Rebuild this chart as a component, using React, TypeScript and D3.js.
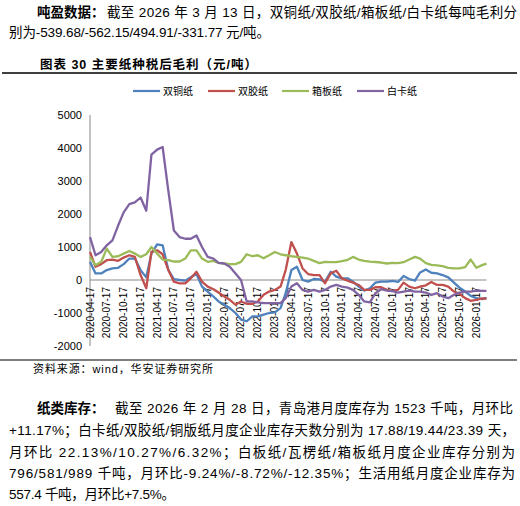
import React from "react";
import * as d3 from "d3";

// monthly samples (17th of each month), last point is 2026-03-13
const startDate = new Date(2020, 3, 17);
const lastDate = new Date(2026, 2, 13);
const dates: Date[] = d3
  .range(72)
  .map((i) => (i === 71 ? lastDate : d3.timeMonth.offset(startDate, i)));

const tickLabels = [
  "2020-04-17", "2020-07-17", "2020-10-17", "2021-01-17", "2021-04-17", "2021-07-17",
  "2021-10-17", "2022-01-17", "2022-04-17", "2022-07-17", "2022-10-17", "2023-01-17",
  "2023-04-17", "2023-07-17", "2023-10-17", "2024-01-17", "2024-04-17", "2024-07-17",
  "2024-10-17", "2025-01-17", "2025-04-17", "2025-07-17", "2025-10-17", "2026-01-17",
];

const yTicks = [5000, 4000, 3000, 2000, 1000, 0, -1000, -2000];

// 双铜纸
const coated = [
  550, 200, 200, 300, 350, 370, 480, 650, 650, 300, 80, 800,
  1080, 1050, 300, 30, 0, -20, 80, 180, -200, -350, -500, -650,
  -750, -850, -1000, -1200, -1250, -1100, -1100, -1050, -1000, -980, -850, -400,
  300, 400, 0, -50, 30, 20, -50, 250, 100, 50, 50, -50,
  -200, -320, -250, -80, -50, -50, -30, -60, 120, 30, -20, 230,
  320, 220, 200, 150, 80, -80, -230, -350, -480, -550, -580, -539.68,
];
// 双胶纸
const offset = [
  850, 400, 480, 600, 620, 580, 680, 750, 700, 150, -250, 850,
  900, 780, 300, -50, -100, -100, 50, 250, -50, -200, -280, -380,
  -500, -600, -750, -650, -720, -720, -650, -450, -350, -300, -200, 300,
  1150, 800, 350, 180, 150, 150, -100, 200, 280, 50, -20, -80,
  -150, -300, -300, -220, -220, -300, -330, -300, -80, -200, -250, -200,
  -160, -60, -150, -150, -200, -350, -420, -550, -630, -600, -560, -562.15,
];
// 箱板纸
const boxboard = [
  700, 450, 550, 950, 700, 720, 800, 880, 800, 700, 780, 1000,
  800, 620, 600, 560, 560, 650, 900, 900, 650, 550, 580, 520,
  500, 480, 480, 550, 780, 720, 750, 660, 750, 850, 780, 750,
  720, 700, 680, 650, 580, 510, 550, 540, 540, 570, 610, 700,
  620, 580, 555, 545, 530, 500, 520, 510, 540, 620, 700, 650,
  510, 460, 440, 420, 370, 350, 350, 390, 620, 370, 450, 494.91,
];
// 白卡纸
const ivory = [
  1300, 750, 850, 1050, 1200, 1650, 2050, 2300, 2350, 2500, 2100, 3800,
  3950, 4030, 2700, 1500, 1300, 1250, 1250, 1350, 1000, 700, 650, 520,
  500, 400, 200, 0, -650, -650, -680, -700, -700, -700, -700, -550,
  -200, -100, -300, -350, -300, -350, -300, -200, -150, -200, -230, -300,
  -450, -650, -680, -400, -280, -320, -340, -380, -350, -320, -350, -350,
  -380, -450, -400, -500, -550, -450, -380, -350, -350, -320, -330, -331.77,
];

const series = [
  { name: "双铜纸", color: "#4F81BD", values: coated },
  { name: "双胶纸", color: "#C0504D", values: offset },
  { name: "箱板纸", color: "#9BBB59", values: boxboard },
  { name: "白卡纸", color: "#8064A2", values: ivory },
];

const latin = "'Liberation Sans', Arial, 'Noto Sans CJK SC', sans-serif";

const App = () => {
  const x = d3
    .scaleTime()
    .domain([startDate, new Date(2026, 0, 17)])
    .range([90, 476.4]);
  const y = d3.scaleLinear().domain([-2000, 5000]).range([346, 115]);

  const line = d3
    .line<number>()
    .x((_, i) => x(dates[i]))
    .y((d) => y(d));

  const legendX = [133, 208, 282, 357];

  return (
    <svg
      width={520}
      height={506}
      style={{ position: "absolute", left: 0, top: 0, background: "#fff" }}
      fontFamily={latin}
    >
      {/* paragraph 1 */}
      <text x={37} y={17} fontSize={13.5} fontWeight="bold" fill="#000">
        吨盈数据：
      </text>
      <text x={107} y={17} fontSize={13.5} textLength={410} lengthAdjust="spacing">
        截至 2026 年 3 月 13 日，双铜纸/双胶纸/箱板纸/白卡纸每吨毛利分
      </text>
      <text x={9} y={37} fontSize={13.5} textLength={261} lengthAdjust="spacing">
        别为-539.68/-562.15/494.91/-331.77 元/吨。
      </text>

      {/* chart title */}
      <text x={40} y={69} fontSize={12.5} fontWeight="bold" textLength={217} lengthAdjust="spacing">
        图表 30 主要纸种税后毛利（元/吨）
      </text>
      <line x1={2} x2={517} y1={73} y2={73} stroke="#000" strokeWidth={1.5} />

      {/* legend */}
      {series.map((s, i) => (
        <g key={s.name}>
          <line
            x1={legendX[i]}
            x2={legendX[i] + 27}
            y1={91}
            y2={91}
            stroke={s.color}
            strokeWidth={2.2}
          />
          <text x={legendX[i] + 30} y={95} fontSize={10} fill="#000">
            {s.name}
          </text>
        </g>
      ))}

      {/* y axis */}
      <line x1={90} x2={90} y1={y(5000)} y2={y(-2000)} stroke="#868686" />
      {yTicks.map((t) => (
        <text key={t} x={82} y={y(t)} dy="0.35em" fontSize={11} textAnchor="end">
          {t}
        </text>
      ))}

      {/* x axis labels */}
      {tickLabels.map((t) => {
        const px = x(d3.timeParse("%Y-%m-%d")(t) as Date);
        return (
          <text
            key={t}
            transform={`translate(${px},287) rotate(-90)`}
            dy="0.35em"
            fontSize={10}
            textAnchor="end"
          >
            {t}
          </text>
        );
      })}
      <line x1={90} x2={x(lastDate)} y1={y(0)} y2={y(0)} stroke="#868686" />

      {/* series */}
      {series.map((s) => (
        <path
          key={s.name}
          d={line(s.values) ?? ""}
          fill="none"
          stroke={s.color}
          strokeWidth={2.3}
          strokeLinejoin="round"
        />
      ))}

      {/* source */}
      <line x1={0} x2={517} y1={360} y2={360} stroke="#000" strokeWidth={1.2} />
      <text x={33} y={373} fontSize={11} textLength={180} lengthAdjust="spacing">
        资料来源：wind，华安证券研究所
      </text>

      {/* paragraph 2 */}
      <text x={37} y={413} fontSize={13.5} fontWeight="bold">
        纸类库存：
      </text>
      <text x={115} y={413} fontSize={13.5} textLength={398} lengthAdjust="spacing">
        截至 2026 年 2 月 28 日，青岛港月度库存为 1523 千吨，月环比
      </text>
      <text x={9} y={435} fontSize={13.5} textLength={506} lengthAdjust="spacing">
        +11.17%；白卡纸/双胶纸/铜版纸月度企业库存天数分别为 17.88/19.44/23.39 天，
      </text>
      <text x={9} y={456.5} fontSize={13.5} textLength={506} lengthAdjust="spacing">
        月环比 22.13%/10.27%/6.32%；白板纸/瓦楞纸/箱板纸月度企业库存分别为
      </text>
      <text x={9} y={478} fontSize={13.5} textLength={506} lengthAdjust="spacing">
        796/581/989 千吨，月环比-9.24%/-8.72%/-12.35%；生活用纸月度企业库存为
      </text>
      <text x={9} y={499} fontSize={13.5} textLength={166} lengthAdjust="spacing">
        557.4 千吨，月环比+7.5%。
      </text>
    </svg>
  );
};

export default App;
